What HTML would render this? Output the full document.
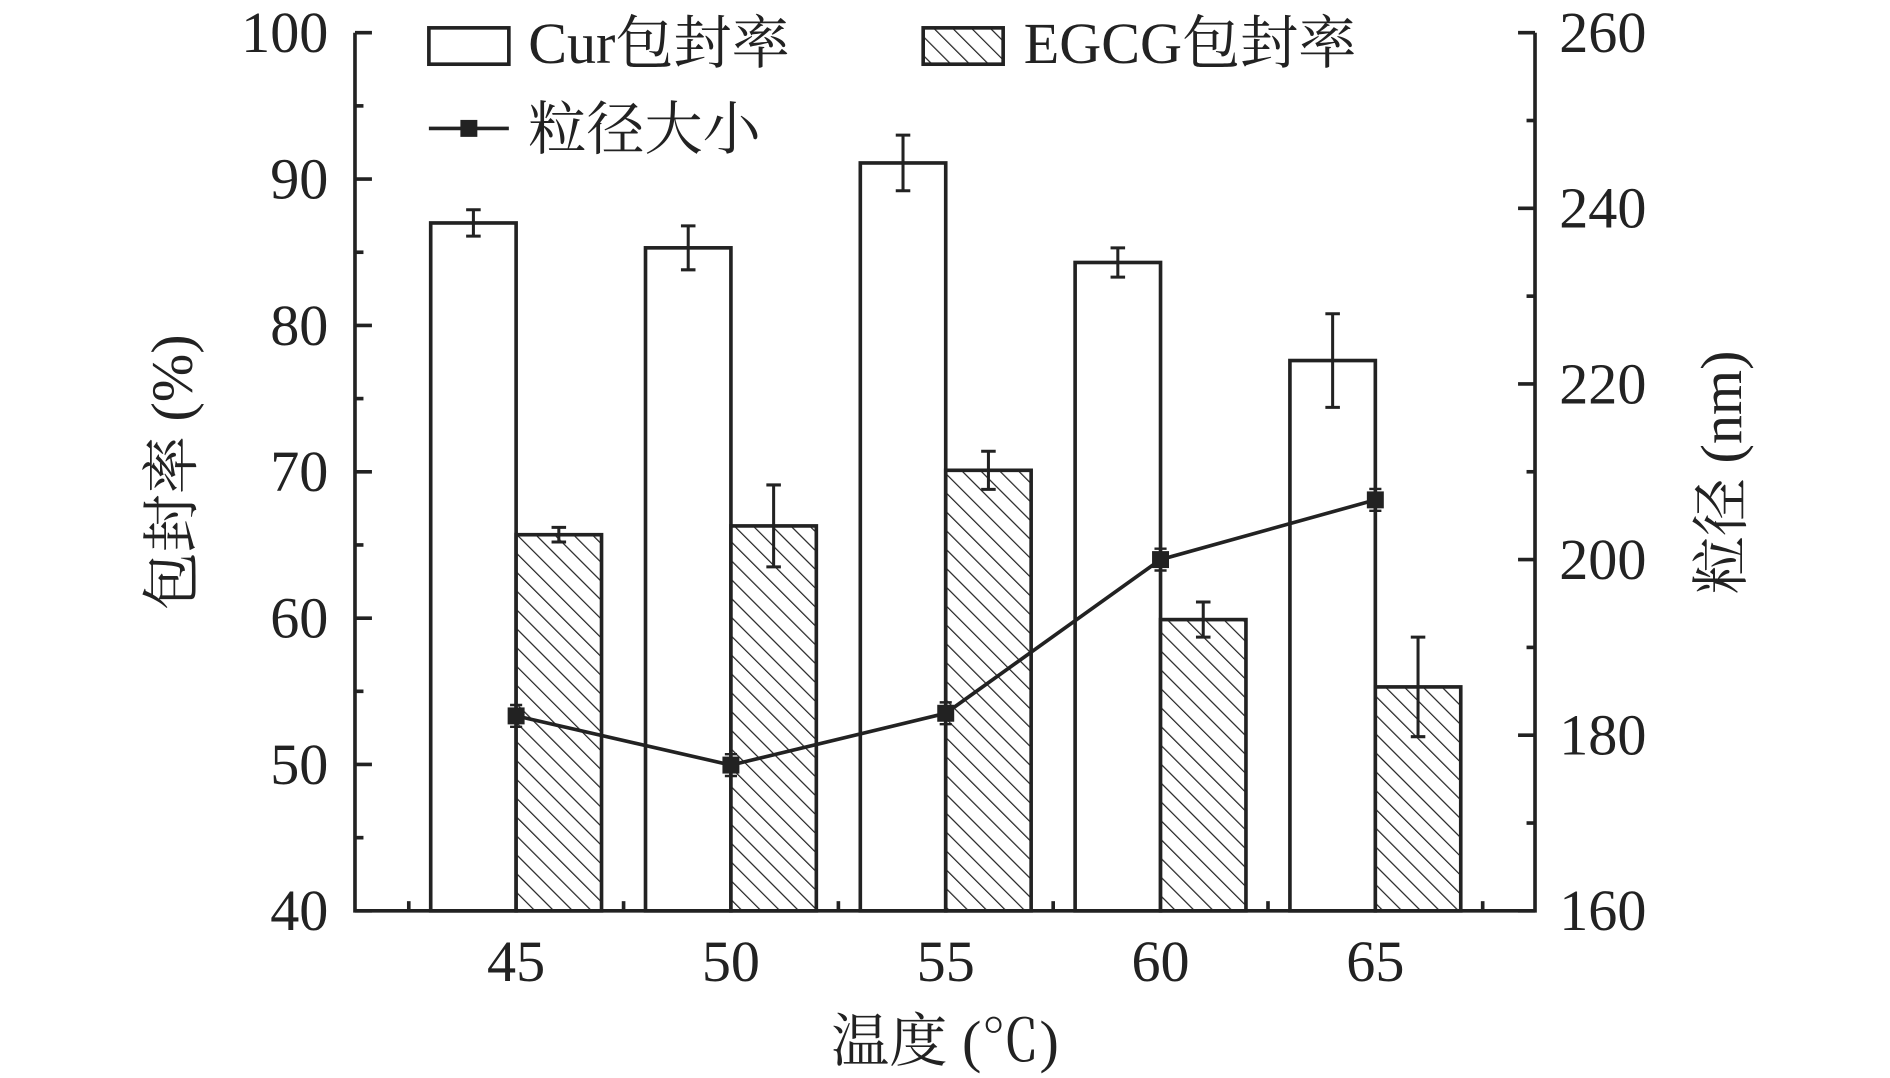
<!DOCTYPE html>
<html><head><meta charset="utf-8"><style>
html,body{margin:0;padding:0;background:#fff}
svg{display:block}
text{font-family:"Liberation Serif","Noto Serif CJK SC",serif;fill:#222}
</style></head><body>
<svg id="chart" width="1890" height="1078" viewBox="0 0 1560 890" preserveAspectRatio="none" xmlns="http://www.w3.org/2000/svg">
<defs>
<pattern id="hatch" patternUnits="userSpaceOnUse" width="11" height="11" patternTransform="rotate(-45)">
<rect width="11" height="11" fill="#fff"/><line x1="0" y1="0" x2="0" y2="11" stroke="#222" stroke-width="2"/>
</pattern>
</defs>
<g id="plot"></g>
</svg>
<script>
const categories = ["45","50","55","60","65"];
const curValues = [87.0,85.3,91.1,84.3,77.6];
const curErrors = [0.9,1.5,1.9,1.0,3.2];
const egcgValues = [65.7,66.3,70.1,59.9,55.3];
const egcgErrors = [0.5,2.8,1.3,1.2,3.4];
const sizeValues = [182.2,176.6,182.5,200.0,206.8];
const leftTicks = [40,50,60,70,80,90,100];
const rightTicks = [160,180,200,220,240,260];

const NS="http://www.w3.org/2000/svg";
const g=document.getElementById('plot');
const L=293,R=1267,T=27,B=752;
const yL=v=>B-(v-40)/60*(B-T);
const yR=v=>B-(v-160)/100*(B-T);
const xC=i=>426+i*177.3;
const BW=70.5;
function mk(tag,attrs,parent){const e=document.createElementNS(NS,tag);for(const k in attrs)e.setAttribute(k,attrs[k]);(parent||g).appendChild(e);return e;}
const st={stroke:"#222","stroke-width":3,fill:"none"};

categories.forEach((c,i)=>{
  let r=mk('rect',{x:xC(i)-BW,y:yL(curValues[i]),width:BW,height:B-yL(curValues[i]),fill:"#fff",stroke:"#222","stroke-width":3});
  
  
  let h=mk('rect',{x:xC(i),y:yL(egcgValues[i]),width:BW,height:B-yL(egcgValues[i]),fill:"url(#hatch)",stroke:"#222","stroke-width":3});
  
  
  [[xC(i)-BW/2,curValues[i],curErrors[i]],[xC(i)+BW/2,egcgValues[i],egcgErrors[i]]].forEach(([x,v,e])=>{
    const eb=mk('path',{d:`M${x} ${yL(v+e)}V${yL(v-e)}M${x-6} ${yL(v+e)}H${x+6}M${x-6} ${yL(v-e)}H${x+6}`,stroke:"#222","stroke-width":2.5,fill:"none"});
    
    
  });
  const t=mk('text',{x:xC(i),y:810,"font-size":48,"text-anchor":"middle"});t.textContent=c;
  
  
  mk('line',{x1:xC(i)-88.6,x2:xC(i)-88.6,y1:B,y2:B-8,stroke:"#222","stroke-width":3});
});
mk('line',{x1:xC(4)+88.6,x2:xC(4)+88.6,y1:B,y2:B-8,stroke:"#222","stroke-width":3});

const line=mk('polyline',{points:sizeValues.map((v,i)=>xC(i)+','+yR(v)).join(' '),stroke:"#222","stroke-width":3,fill:"none"});


sizeValues.forEach((v,i)=>{
  const m=mk('rect',{x:xC(i)-7,y:yR(v)-7,width:14,height:14,fill:"#222"});
  
  
  mk('path',{d:`M${xC(i)-5} ${yR(v)-9}H${xC(i)+5}M${xC(i)-5} ${yR(v)+9}H${xC(i)+5}`,stroke:"#222","stroke-width":2});
});

const ax=mk('path',{d:`M${L} ${T}V${B}H${R}V${T}`,...st});


leftTicks.forEach((v,k)=>{
  mk('line',{x1:L,x2:L+14,y1:yL(v),y2:yL(v),stroke:"#222","stroke-width":3});
  if(k<leftTicks.length-1) mk('line',{x1:L,x2:L+7,y1:yL(v+5),y2:yL(v+5),stroke:"#222","stroke-width":3});
  const t=mk('text',{x:271,y:yL(v)+16,"font-size":48,"text-anchor":"end"});t.textContent=v;
  
  
});
rightTicks.forEach((v,k)=>{
  mk('line',{x1:R,x2:R-14,y1:yR(v),y2:yR(v),stroke:"#222","stroke-width":3});
  if(k<rightTicks.length-1) mk('line',{x1:R,x2:R-7,y1:yR(v+10),y2:yR(v+10),stroke:"#222","stroke-width":3});
  const t=mk('text',{x:1287,y:yR(v)+16,"font-size":48});t.textContent=v;
  
  
});
</script>
<svg style="position:absolute;left:0;top:0" width="1890" height="1078" viewBox="0 0 1560 890" preserveAspectRatio="none" xmlns="http://www.w3.org/2000/svg">
<defs>
<pattern id="hatch2" patternUnits="userSpaceOnUse" width="11" height="11" patternTransform="rotate(-45)">
<rect width="11" height="11" fill="#fff"/><line x1="0" y1="0" x2="0" y2="11" stroke="#222" stroke-width="2"/>
</pattern>
</defs>
<text x="780" y="876" font-size="48" text-anchor="middle">温度 (℃)</text>
<text transform="translate(158,390) rotate(-90)" font-size="48" text-anchor="middle">包封率 (%)</text>
<text transform="translate(1437,390) rotate(-90)" font-size="48" text-anchor="middle">粒径 (nm)</text>
<g>
<rect x="354" y="23" width="66" height="30" fill="#fff" stroke="#222" stroke-width="3"/>
<text x="436" y="52" font-size="48">Cur包封率</text>
<rect x="762" y="23" width="66" height="30" fill="url(#hatch2)" stroke="#222" stroke-width="3"/>
<text x="845" y="52" font-size="48">EGCG包封率</text>
<line x1="354" y1="106" x2="420" y2="106" stroke="#222" stroke-width="3"/>
<rect x="380" y="99" width="14" height="14" fill="#222"/>
<text x="436" y="123" font-size="48">粒径大小</text>
</g>
</svg>
</body></html>
